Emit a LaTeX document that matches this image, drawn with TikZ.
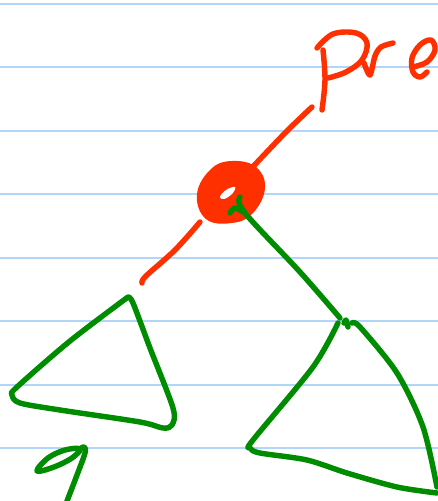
\documentclass[tikz,border=0pt]{standalone}
\usepackage{tikz}
\definecolor{ruleblue}{RGB}{178,214,250}
\definecolor{inkred}{RGB}{255,48,0}
\definecolor{inkgreen}{RGB}{0,140,0}

\begin{document}
\begin{tikzpicture}[
        x=0.02cm, y=-0.02cm,
        rule/.style={ruleblue, line width=1.1pt},
        redink/.style={inkred, line width=3.1pt, line cap=round, line join=round},
        greenink/.style={inkgreen, line width=3.1pt, line cap=round, line join=round}
    ]
        \useasboundingbox (0,0) rectangle (438,501);
        % ruled paper
        \foreach \ly in {4,67,131,194,258,321,385,448}
            \draw[rule] (0,\ly) -- (438,\ly);

        % "Pre"
        \draw[redink] plot[smooth, tension=0.6] coordinates {(322,110) (325,80) (323,50)};
        \draw[redink] plot[smooth, tension=0.6] coordinates {(317,48) (333,34) (356,33) (367,43) (362,60) (346,72) (328,78)};
        \draw[redink] plot[smooth, tension=0.5] coordinates {(364,63) (370,75) (375,56) (381,47) (393,43)};
        \draw[redink] plot[smooth, tension=0.6] coordinates {(413,67) (427,62) (435,50) (431,40) (420,45) (412,58) (413,72) (420,77) (427,72)};

        % root
        \fill[inkred] plot[smooth cycle, tension=0.7] coordinates {(197,194) (211,169) (232,161) (256,167) (265,188) (253,213) (232,223) (206,219)};
        \fill[white] plot[smooth cycle, tension=0.7] coordinates {(220,197) (226,190) (235,187) (232,194) (224,199)};
        \draw[redink] plot[smooth, tension=0.6] coordinates {(312,107) (285,133) (248,172)};
        \draw[redink] plot[smooth, tension=0.6] coordinates {(200,222) (175,250) (146,276) (142,283)};

        % right edge
        \draw[greenink] plot[smooth, tension=0.6] coordinates {(230,213) (235,208) (243,212)};
        \draw[greenink] plot[smooth, tension=0.6] coordinates {(240,197) (245,213) (300,272) (340,318)};

        % left subtree
        \draw[greenink] plot[smooth, tension=0.5] coordinates {(128,297) (70,341) (17,387) (12,395) (20,403) (60,410) (140,422) (163,428) (172,425) (173,408) (150,348) (133,303) (128,297)};

        % right subtree
        \draw[greenink] plot[smooth, tension=0.5] coordinates {(338,323) (313,367) (253,440) (250,448) (260,453) (307,460) (347,473) (397,487) (437,493)};
        \draw[greenink] plot[smooth, tension=0.5] coordinates {(344,323) (346,320) (348,327)};
        \draw[greenink] plot[smooth, tension=0.5] coordinates {(352,323) (360,327) (397,373) (423,427) (437,487)};

        % a
        \draw[greenink] plot[smooth cycle, tension=0.6] coordinates {(37,471) (48,458) (65,450) (80,449) (72,458) (54,467)};
        \draw[greenink] plot[smooth, tension=0.6] coordinates {(80,449) (84,447) (85,453) (77,475) (67,501)};
\end{tikzpicture}
\end{document}
